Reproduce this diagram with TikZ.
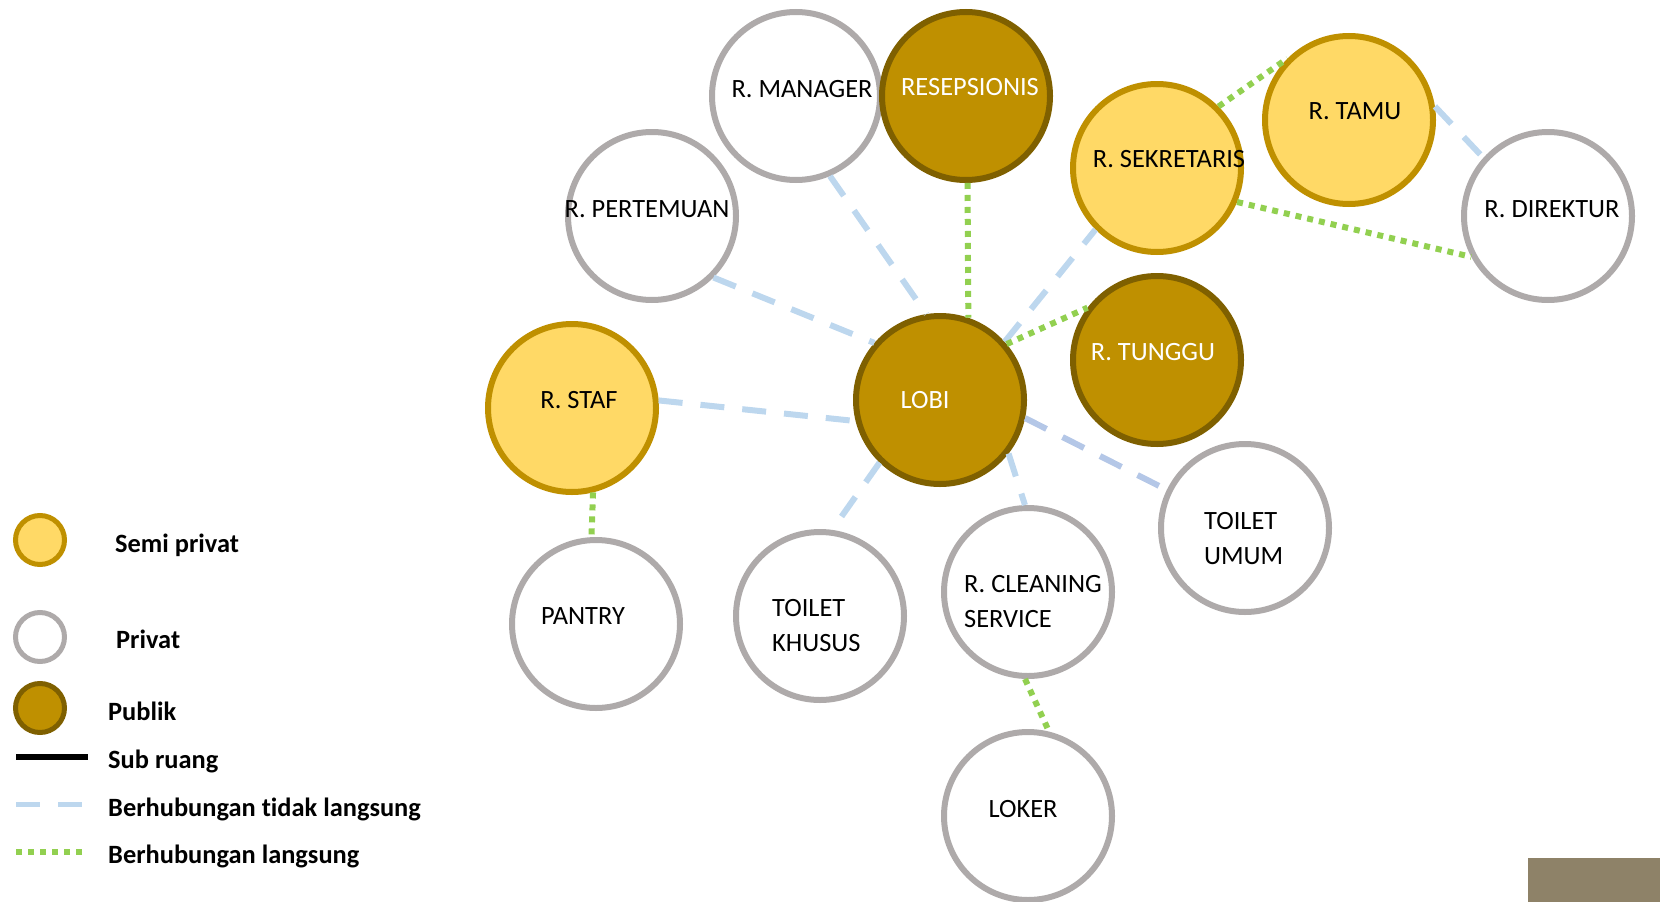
\documentclass[tikz,border=0pt]{standalone}
\usepackage{fontspec}
\setmainfont{Carlito}[RawFeature={-liga;-clig;-dlig;-calt}]
\definecolor{semifill}{HTML}{FFD966}
\definecolor{semiline}{HTML}{BF9000}
\definecolor{pubfill}{HTML}{BF9000}
\definecolor{publine}{HTML}{7F6000}
\definecolor{privline}{HTML}{AEAAAA}
\definecolor{indcol}{HTML}{BDD7EE}
\definecolor{indcoltwo}{HTML}{B4C7E7}
\definecolor{dircol}{HTML}{92D050}
\definecolor{cornercol}{HTML}{8E8268}
\begin{document}
\begin{tikzpicture}[x=1pt,y=-1pt,
  room/.style={circle, minimum size=168pt, inner sep=0pt, line width=6pt},
  semi/.style={room, fill=semifill, draw=semiline},
  pub/.style={room, fill=pubfill, draw=publine},
  priv/.style={room, fill=white, draw=privline},
  legroom/.style={circle, minimum size=49pt, inner sep=0pt, line width=5pt},
  lbl/.style={font=\fontsize{26.4}{35}\selectfont, inner sep=0pt, anchor=base},
  lblw/.style={lbl, text=white},
  lbltwo/.style={font=\fontsize{26.4}{35}\selectfont, inner sep=0pt, anchor=base west},
  legtext/.style={font=\fontsize{26.4}{35}\selectfont\bfseries, inner sep=0pt, anchor=base west},
  indirect/.style={draw=indcol, line width=6pt, dash pattern=on 24pt off 18pt},
  direct/.style={draw=dircol, line width=6pt, dash pattern=on 6pt off 6pt},
  ]
\useasboundingbox (0,0) rectangle (1660,902);
\fill[cornercol] (1528,858) rectangle (1660,902);

% rooms
\node[priv] (mgr) at (796,96) {};
\node[pub] (res) at (966,96) {};
\node[priv] (pert) at (652,216) {};
\node[semi] (sek) at (1157,168) {};
\node[semi] (tamu) at (1349,120) {};
\node[priv] (dir) at (1548,216) {};
\node[pub] (tunggu) at (1157,360) {};
\node[pub] (lobi) at (940,400) {};
\node[semi] (staf) at (572,408) {};
\node[priv] (pantry) at (596,624) {};
\node[priv] (tk) at (820,616) {};
\node[priv] (cs) at (1028,592) {};
\node[priv] (tu) at (1245,528) {};
\node[priv] (loker) at (1028,816) {};

% indirect connections
\draw[indirect] (mgr.-67) -- (lobi.99);
\draw[indirect] (pert.-45) -- (lobi.139);
\draw[indirect] (staf.5) -- (lobi.194);
\draw[indirect] (lobi.-134) -- (tk.82);
\draw[indirect] (lobi.-38) -- (cs.92);
\draw[indirect, draw=indcoltwo] (lobi.-12) -- (tu.154);
\draw[indirect] (lobi.42) -- (sek.-135);
\draw[indirect] (tamu.9) -- (dir.138);

% direct connections
\draw[direct] (res.-89) -- (lobi.71);
\draw[direct] (lobi.40) -- (tunggu.143);
\draw[direct] (sek.45) -- (tamu.135);
\draw[direct] (sek.-23) -- (dir.-152);
\draw[direct] (staf.-76) -- (pantry.93);
\draw[direct] (cs.-92) -- (loker.76);

% labels
\node[lbl] (mgr-t) at (802,97) {R. MANAGER};
\node[lbl] (pert-t) at (647,217) {R. PERTEMUAN};
\node[lblw] (res-t) at (970,95) {RESEPSIONIS};
\node[lbl] (sek-t) at (1169,167) {R. SEKRETARIS};
\node[lbl] (tamu-t) at (1355,119) {R. TAMU};
\node[lbl] (dir-t) at (1552,217) {R. DIREKTUR};
\node[lblw] (tunggu-t) at (1153,360) {R. TUNGGU};
\node[lblw] (lobi-t) at (925,408) {LOBI};
\node[lbl] (staf-t) at (579,408) {R. STAF};
\node[lbl] (pantry-t) at (583,624) {PANTRY};
\node[lbl] (loker-t) at (1023,817) {LOKER};
\node[lbltwo] (tk-t) at (772,616) {\begin{tabular}[t]{@{}l@{}}TOILET\\KHUSUS\end{tabular}};
\node[lbltwo] (cs-t) at (964,592) {\begin{tabular}[t]{@{}l@{}}R. CLEANING\\SERVICE\end{tabular}};
\node[lbltwo] (tu-t) at (1204,529) {\begin{tabular}[t]{@{}l@{}}TOILET\\UMUM\end{tabular}};

% legend
\node[legroom, fill=semifill, draw=semiline] (leg-semi) at (40,540) {};
\node[legroom, fill=white, draw=privline] (leg-priv) at (40,637) {};
\node[legroom, fill=pubfill, draw=publine] (leg-pub) at (40,708) {};
\coordinate (sub-a) at (16,757);
\coordinate (sub-b) at (88,757);
\draw[black, line width=6pt] (sub-a) -- (sub-b);
\coordinate (ind-a) at (16,804);
\coordinate (ind-b) at (82,804);
\draw[indirect, line width=5pt] (ind-a) -- (ind-b);
\coordinate (dir-a) at (16,852);
\coordinate (dir-b) at (84,852);
\draw[direct] (dir-a) -- (dir-b);
\node[legtext] (t-semi) at (115,552) {Semi privat};
\node[legtext] (t-priv) at (116,648) {Privat};
\node[legtext] (t-pub) at (108,720) {Publik};
\node[legtext] (t-sub) at (108,768) {Sub ruang};
\node[legtext] (t-ind) at (108,816) {Berhubungan t\kern0pt idak langsung};
\node[legtext] (t-dir) at (108,863) {Berhubungan langsung};
\end{tikzpicture}
\end{document}
